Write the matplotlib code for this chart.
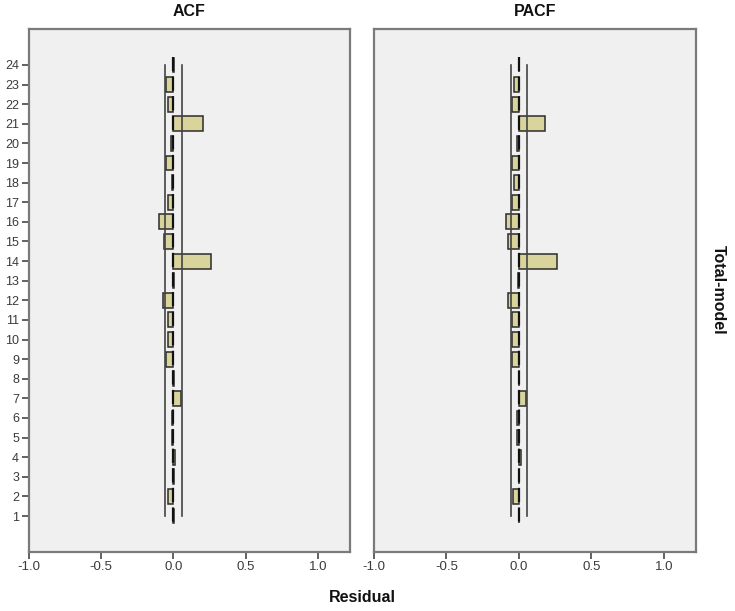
import matplotlib
matplotlib.use("Agg")
import matplotlib.pyplot as plt
import numpy as np

plt.rcParams['font.family'] = ['Liberation Sans', 'DejaVu Sans']
plt.rcParams['lines.scale_dashes'] = False

lags = list(range(1, 25))
acf_values = [0.002, -0.037, 0.002, 0.015, -0.010, -0.010, 0.053, 0.003,
              -0.050, -0.040, -0.037, -0.068, 0.003, 0.262, -0.066, -0.100,
              -0.040, -0.012, -0.052, -0.015, 0.205, -0.034, -0.052, 0.002]
pacf_values = [0.002, -0.040, 0.002, 0.015, -0.010, -0.010, 0.046, 0.003,
               -0.050, -0.046, -0.046, -0.074, -0.004, 0.260, -0.074, -0.090,
               -0.050, -0.035, -0.050, -0.015, 0.180, -0.050, -0.035, 0.002]
acf_conf = 0.06
pacf_conf = 0.053
panel_titles = ["ACF", "PACF"]
x_ticks = [-1.0, -0.5, 0.0, 0.5, 1.0]
x_label = "Residual"
side_label = "Total-model"

W, H = 735, 611
fig = plt.figure(figsize=(W / 100, H / 100), dpi=100)

panels = [
    (28.7, 350.0, acf_values, acf_conf, panel_titles[0]),
    (374.0, 696.0, pacf_values, pacf_conf, panel_titles[1]),
]
top_px, bot_px = 29.3, 551.7

bar_face = '#d9d39c'
bar_edge = '#2b2b2b'
frame_col = '#7a7a7a'
tick_col = '#3a3a3a'

for i, (x0, x1, vals, conf, title) in enumerate(panels):
    ax = fig.add_axes([x0 / W, 1 - bot_px / H, (x1 - x0) / W, (bot_px - top_px) / H])
    ax.set_facecolor('#f0f0f0')
    ax.barh(lags, vals, height=0.76, color=bar_face, edgecolor=bar_edge,
            linewidth=1.1, zorder=2)
    ax.plot([-conf, -conf], [1, 24], color='#444444', lw=1.2, zorder=3)
    ax.plot([conf, conf], [1, 24], color='#444444', lw=1.2, zorder=3)
    ax.plot([0, 0], [24.4, 0.55], color='#111111', lw=1.6, zorder=3,
            dashes=(10.2, 3.9), solid_capstyle='butt', dash_capstyle='butt')
    ax.set_xlim(-1.0, 1.222)
    ax.set_ylim(-0.82, 25.82)
    ax.set_xticks(x_ticks)
    ax.set_xticklabels([f"{t:.1f}" for t in x_ticks], fontsize=9.5, color=tick_col)
    if i == 0:
        ax.set_yticks(lags)
        ax.set_yticklabels([str(l) for l in lags], fontsize=9, color=tick_col)
    else:
        ax.set_yticks([])
    ax.tick_params(axis='both', direction='out', length=5, width=1.3,
                   color='#555555', pad=2)
    for s in ax.spines.values():
        s.set_color(frame_col)
        s.set_linewidth(1.6)
    cx = (x0 + x1) / 2 / W
    fig.text(cx, 1 - 12 / H, title, ha='center', va='center',
             fontsize=11.5, fontweight='bold', color='#111111')

fig.text(362 / W, 1 - 598 / H, x_label, ha='center', va='center',
         fontsize=11.5, fontweight='bold', color='#111111')
fig.text(718 / W, 1 - 290 / H, side_label, ha='center', va='center',
         rotation=-90, fontsize=11.5, fontweight='bold', color='#111111')

fig.savefig('out.png', dpi=100)
